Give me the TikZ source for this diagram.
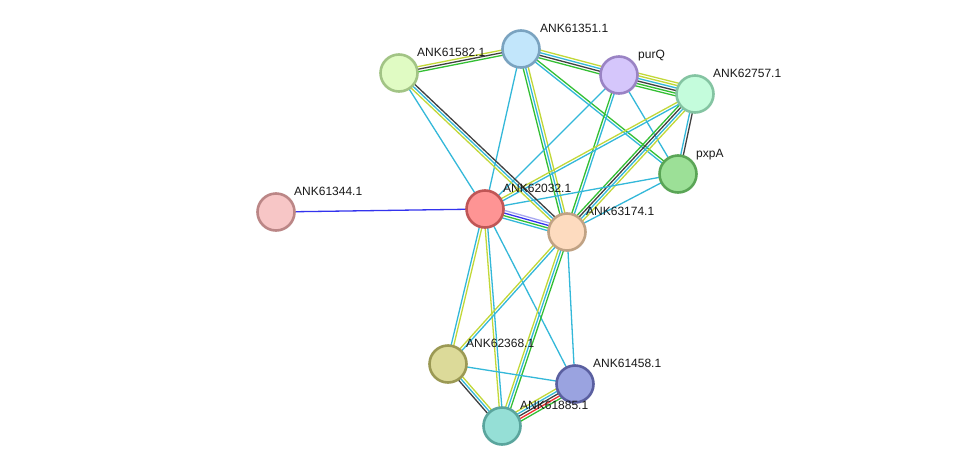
\documentclass[tikz,border=0pt]{standalone}
\usepackage{fontspec}
\setmainfont{Liberation Sans}
\usetikzlibrary{calc,backgrounds}
\definecolor{ecyan}{HTML}{33B8D9}
\definecolor{eyel}{HTML}{C2D838}
\definecolor{egreen}{HTML}{33BF33}
\definecolor{eblack}{HTML}{404040}
\definecolor{eblue}{HTML}{3333EE}
\definecolor{elav}{HTML}{A8A8F0}
\definecolor{ered}{HTML}{F03030}
\definecolor{f1351}{RGB}{194,230,251}\definecolor{d1351}{RGB}{122,163,192}
\definecolor{f1582}{RGB}{224,251,195}\definecolor{d1582}{RGB}{162,196,133}
\definecolor{fpurQ}{RGB}{213,198,251}\definecolor{dpurQ}{RGB}{154,131,196}
\definecolor{f2757}{RGB}{196,252,220}\definecolor{d2757}{RGB}{132,196,162}
\definecolor{fpxpA}{RGB}{156,224,151}\definecolor{dpxpA}{RGB}{90,165,86}
\definecolor{f1344}{RGB}{247,198,198}\definecolor{d1344}{RGB}{187,134,134}
\definecolor{f2032}{RGB}{254,148,148}\definecolor{d2032}{RGB}{192,86,86}
\definecolor{f3174}{RGB}{253,219,191}\definecolor{d3174}{RGB}{192,162,132}
\definecolor{f2368}{RGB}{220,218,153}\definecolor{d2368}{RGB}{155,153,84}
\definecolor{f1458}{RGB}{154,163,224}\definecolor{d1458}{RGB}{90,95,160}
\definecolor{f1885}{RGB}{149,223,214}\definecolor{d1885}{RGB}{90,165,157}
\tikzset{
  prot/.style={circle, minimum size=37pt, inner sep=0pt, line width=2.6pt, fill=f#1, draw=d#1},
  lab/.style={anchor=base west, font=\fontsize{12pt}{14pt}\selectfont, text=black!90, inner sep=0pt},
  eline/.style={line width=1.3pt},
}
\newcommand\myedge[3]{%
  \gdef\nn{0}%
  \foreach \c in {#3}{\xdef\nn{\the\numexpr\nn+1\relax}}%
  \foreach \c [count=\i] in {#3}{%
    \pgfmathsetmacro\off{(\i-1-(\nn-1)/2)*2.6}%
    \draw[eline,\c] ($(#1.center)!\off pt!90:(#2.center)$) -- ($(#2.center)!\off pt!-90:(#1.center)$);
  }}
\begin{document}
\begin{tikzpicture}[x=1pt,y=-1pt]
\useasboundingbox (0,0) rectangle (975,472);
\node[prot=1351] (n1351) at (521,49) {};
\node[prot=1582] (n1582) at (399,73) {};
\node[prot=purQ] (npurQ) at (619,75) {};
\node[prot=2757] (n2757) at (695,94) {};
\node[prot=pxpA] (npxpA) at (678,174) {};
\node[prot=1344] (n1344) at (276,212) {};
\node[prot=2032] (n2032) at (485,209) {};
\node[prot=3174] (n3174) at (567,232) {};
\node[prot=2368] (n2368) at (448,364) {};
\node[prot=1458] (n1458) at (575,384) {};
\node[prot=1885] (n1885) at (502,426) {};
\begin{pgfonlayer}{background}
\fill[white] (0,0) rectangle (975,472);
\myedge{n1351}{n1582}{eyel,eblack,egreen}
\myedge{n1351}{npurQ}{egreen,eblack,ecyan,eyel}
\myedge{npurQ}{n2757}{egreen,egreen,eblack,ecyan,eyel,eyel}
\myedge{n1351}{npxpA}{ecyan,egreen}
\myedge{n1351}{n2032}{ecyan}
\myedge{n1351}{n3174}{egreen,ecyan,eyel}
\myedge{npurQ}{n2032}{ecyan}
\myedge{npurQ}{n3174}{egreen,ecyan}
\myedge{npurQ}{npxpA}{ecyan}
\myedge{n2757}{npxpA}{ecyan,eblack}
\myedge{n2757}{n3174}{egreen,eblack,ecyan,eyel}
\myedge{n2757}{n2032}{eyel,ecyan}
\myedge{npxpA}{n2032}{ecyan}
\myedge{npxpA}{n3174}{ecyan}
\myedge{n1582}{n2032}{ecyan}
\myedge{n1582}{n3174}{eyel,ecyan,eblack}
\myedge{n2032}{n1344}{eblue}
\myedge{n2032}{n3174}{ecyan,egreen,eblue,elav}
\myedge{n2032}{n2368}{ecyan,eyel}
\myedge{n2032}{n1885}{eyel,ecyan}
\myedge{n2032}{n1458}{ecyan}
\myedge{n3174}{n2368}{eyel,ecyan}
\myedge{n3174}{n1885}{eyel,ecyan,egreen}
\myedge{n3174}{n1458}{ecyan}
\myedge{n2368}{n1885}{eblack,ecyan,eyel}
\myedge{n2368}{n1458}{ecyan}
\myedge{n1458}{n1885}{eyel,ecyan,eblack,ered,egreen}
\end{pgfonlayer}
\node[lab] (l1351) at ($(n1351.center)+(19,-17)$) {ANK61351.1};
\node[lab] (l1582) at ($(n1582.center)+(18,-17)$) {ANK61582.1};
\node[lab] (lpurQ) at ($(npurQ.center)+(19,-17)$) {purQ};
\node[lab] (l2757) at ($(n2757.center)+(18,-17)$) {ANK62757.1};
\node[lab] (lpxpA) at ($(npxpA.center)+(18,-17)$) {pxpA};
\node[lab] (l1344) at ($(n1344.center)+(18,-17)$) {ANK61344.1};
\node[lab] (l2032) at ($(n2032.center)+(18,-17)$) {ANK62032.1};
\node[lab] (l3174) at ($(n3174.center)+(19,-17)$) {ANK63174.1};
\node[lab] (l2368) at ($(n2368.center)+(18,-17)$) {ANK62368.1};
\node[lab] (l1458) at ($(n1458.center)+(18,-17)$) {ANK61458.1};
\node[lab] (l1885) at ($(n1885.center)+(18,-17)$) {ANK61885.1};
\end{tikzpicture}
\end{document}
